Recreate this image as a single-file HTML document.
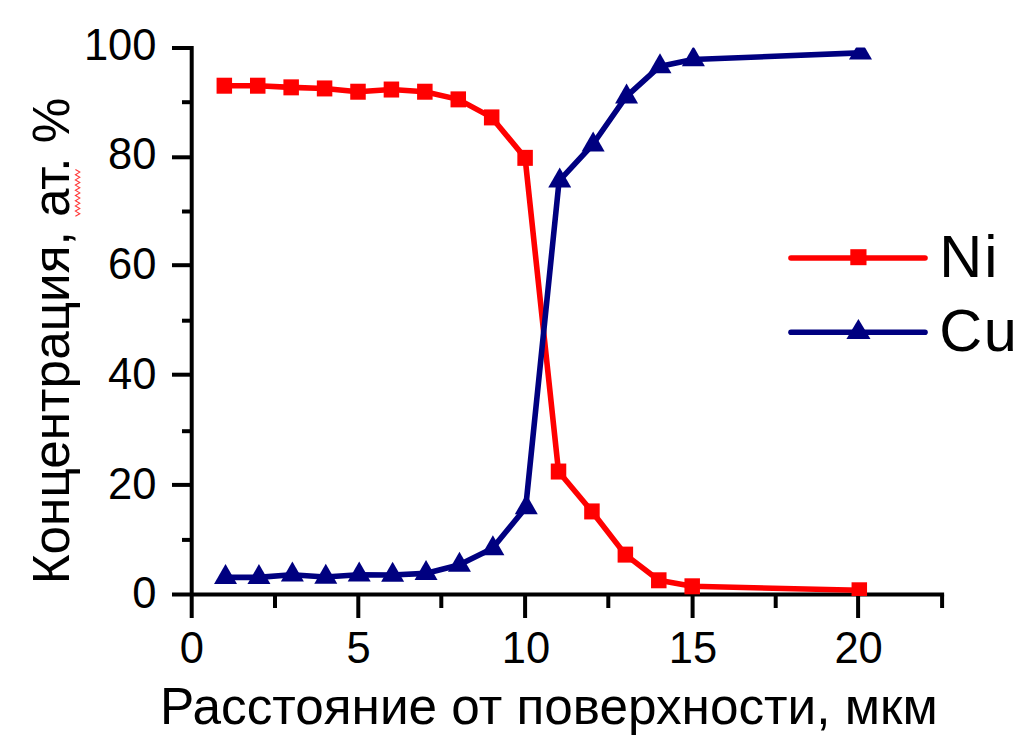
<!DOCTYPE html><html><head><meta charset="utf-8"><style>html,body{margin:0;padding:0;background:#fff;}svg{display:block;font-family:"Liberation Sans",sans-serif;}</style></head><body>
<svg width="1024" height="744" viewBox="0 0 1024 744">
<rect width="1024" height="744" fill="#fff"/>
<g stroke="#000" stroke-width="4" fill="none" stroke-linecap="butt">
<line x1="191.7" y1="46" x2="191.7" y2="618"/>
<line x1="172" y1="594.5" x2="944.1" y2="594.5"/>
<line x1="172" y1="484.90" x2="191.7" y2="484.90"/>
<line x1="172" y1="374.70" x2="191.7" y2="374.70"/>
<line x1="172" y1="265.20" x2="191.7" y2="265.20"/>
<line x1="172" y1="157.30" x2="191.7" y2="157.30"/>
<line x1="172" y1="48.00" x2="191.7" y2="48.00"/>
<line x1="182" y1="539.90" x2="191.7" y2="539.90"/>
<line x1="182" y1="431.20" x2="191.7" y2="431.20"/>
<line x1="182" y1="320.70" x2="191.7" y2="320.70"/>
<line x1="182" y1="211.50" x2="191.7" y2="211.50"/>
<line x1="182" y1="102.20" x2="191.7" y2="102.20"/>
<line x1="358.30" y1="594.5" x2="358.30" y2="618"/>
<line x1="525.10" y1="594.5" x2="525.10" y2="618"/>
<line x1="692.60" y1="594.5" x2="692.60" y2="618"/>
<line x1="858.10" y1="594.5" x2="858.10" y2="618"/>
<line x1="275.00" y1="594.5" x2="275.00" y2="608"/>
<line x1="441.30" y1="594.5" x2="441.30" y2="608"/>
<line x1="608.30" y1="594.5" x2="608.30" y2="608"/>
<line x1="775.70" y1="594.5" x2="775.70" y2="608"/>
<line x1="942.10" y1="594.5" x2="942.10" y2="608"/>
</g>
<clipPath id="c"><rect x="191.7" y="47.5" width="800" height="548.4"/></clipPath>
<g clip-path="url(#c)"><polyline points="224.32,85.71 257.74,85.71 291.16,87.35 324.58,88.44 358.00,91.72 391.42,89.53 424.84,91.72 458.26,99.37 491.68,117.41 525.10,157.85 558.52,471.54 591.94,511.43 625.36,554.61 658.78,580.29 692.20,586.30 859.30,590.29" fill="none" stroke="#ff0000" stroke-width="5.6" stroke-linejoin="round"/>
<rect x="216.57" y="77.71" width="15.5" height="16" fill="#ff0000"/>
<rect x="249.99" y="77.71" width="15.5" height="16" fill="#ff0000"/>
<rect x="283.41" y="79.35" width="15.5" height="16" fill="#ff0000"/>
<rect x="316.83" y="80.44" width="15.5" height="16" fill="#ff0000"/>
<rect x="350.25" y="83.72" width="15.5" height="16" fill="#ff0000"/>
<rect x="383.67" y="81.53" width="15.5" height="16" fill="#ff0000"/>
<rect x="417.09" y="83.72" width="15.5" height="16" fill="#ff0000"/>
<rect x="450.51" y="91.37" width="15.5" height="16" fill="#ff0000"/>
<rect x="483.93" y="109.41" width="15.5" height="16" fill="#ff0000"/>
<rect x="517.35" y="149.85" width="15.5" height="16" fill="#ff0000"/>
<rect x="550.77" y="463.54" width="15.5" height="16" fill="#ff0000"/>
<rect x="584.19" y="503.43" width="15.5" height="16" fill="#ff0000"/>
<rect x="617.61" y="546.61" width="15.5" height="16" fill="#ff0000"/>
<rect x="651.03" y="572.29" width="15.5" height="16" fill="#ff0000"/>
<rect x="684.45" y="578.30" width="15.5" height="16" fill="#ff0000"/>
<rect x="851.55" y="582.29" width="15.5" height="16" fill="#ff0000"/>
</g>
<g clip-path="url(#c)"><polyline points="224.92,577.39 258.34,577.39 291.76,574.83 325.18,577.01 358.60,574.83 392.02,574.99 425.44,573.41 458.86,564.99 492.28,548.59 525.70,507.61 559.12,180.80 592.54,144.73 625.96,96.91 659.38,66.58 692.80,59.48 859.90,52.92" fill="none" stroke="#000080" stroke-width="5.6" stroke-linejoin="round"/>
<polygon points="214.02,584.06 237.02,584.06 225.52,564.06" fill="#000080"/>
<polygon points="247.44,584.06 270.44,584.06 258.94,564.06" fill="#000080"/>
<polygon points="280.86,581.49 303.86,581.49 292.36,561.49" fill="#000080"/>
<polygon points="314.28,583.68 337.28,583.68 325.78,563.68" fill="#000080"/>
<polygon points="347.70,581.49 370.70,581.49 359.20,561.49" fill="#000080"/>
<polygon points="381.12,581.66 404.12,581.66 392.62,561.66" fill="#000080"/>
<polygon points="414.54,580.07 437.54,580.07 426.04,560.07" fill="#000080"/>
<polygon points="447.96,571.66 470.96,571.66 459.46,551.66" fill="#000080"/>
<polygon points="481.38,555.26 504.38,555.26 492.88,535.26" fill="#000080"/>
<polygon points="514.80,514.27 537.80,514.27 526.30,494.27" fill="#000080"/>
<polygon points="548.22,187.47 571.22,187.47 559.72,167.47" fill="#000080"/>
<polygon points="581.64,151.40 604.64,151.40 593.14,131.40" fill="#000080"/>
<polygon points="615.06,103.58 638.06,103.58 626.56,83.58" fill="#000080"/>
<polygon points="648.48,73.25 671.48,73.25 659.98,53.25" fill="#000080"/>
<polygon points="681.90,66.14 704.90,66.14 693.40,46.14" fill="#000080"/>
<polygon points="849.00,59.59 872.00,59.59 860.50,39.59" fill="#000080"/>
</g>
<line x1="791" y1="258" x2="925" y2="258" stroke="#ff0000" stroke-width="5.6" stroke-linecap="round"/>
<rect x="850.3" y="249.2" width="16.2" height="16" fill="#ff0000"/>
<line x1="791" y1="332.2" x2="925" y2="332.2" stroke="#000080" stroke-width="5.6" stroke-linecap="round"/>
<polygon points="846.4,339 870.5,339 858.4,319" fill="#000080"/>
<g fill="#000">
<text id="lni" x="939.3" y="276.8" font-size="59.5">N<tspan dx="2">i</tspan></text>
<text id="lcu" x="939.3" y="350.8" font-size="59.5">C<tspan dx="1.5">u</tspan></text>
<text class="yt" x="156.5" y="607.90" font-size="43.5" text-anchor="end">0</text>
<text class="yt" x="156.5" y="499.20" font-size="43.5" text-anchor="end">20</text>
<text class="yt" x="156.5" y="388.80" font-size="43.5" text-anchor="end">40</text>
<text class="yt" x="156.5" y="279.00" font-size="43.5" text-anchor="end">60</text>
<text class="yt" x="156.5" y="169.00" font-size="43.5" text-anchor="end">80</text>
<text class="yt" x="156.5" y="59.70" font-size="43.5" text-anchor="end">100</text>
<text class="xt" x="191.80" y="663.3" font-size="43.5" text-anchor="middle">0</text>
<text class="xt" x="358.50" y="663.3" font-size="43.5" text-anchor="middle">5</text>
<text class="xt" x="526.00" y="663.3" font-size="43.5" text-anchor="middle">10</text>
<text class="xt" x="693.00" y="663.3" font-size="43.5" text-anchor="middle">15</text>
<text class="xt" x="858.60" y="663.3" font-size="43.5" text-anchor="middle">20</text>
<text id="xtitle" x="548.9" y="723.5" font-size="51.3" text-anchor="middle">Расстояние от поверхности, мкм</text>
<text id="ytitle" transform="translate(69,341) rotate(-90)" font-size="51.3" text-anchor="middle">Концентрация, ат. %</text>
</g>
<polyline points="75.4,169.5 79.8,172.1 75.4,174.7 79.8,177.3 75.4,179.9 79.8,182.5 75.4,185.1 79.8,187.7 75.4,190.3 79.8,192.9 75.4,195.5 79.8,198.1 75.4,200.7 79.8,203.3 75.4,205.9 79.8,208.5 75.4,211.1 79.8,213.7 75.4,216.3" fill="none" stroke="#ff3838" stroke-width="1.1"/>
</svg></body></html>
